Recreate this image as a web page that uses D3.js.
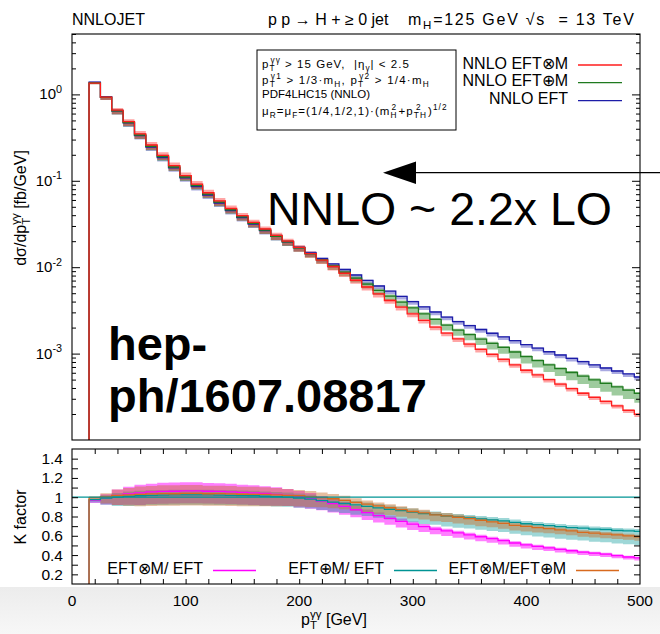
<!DOCTYPE html>
<html>
<head>
<meta charset="utf-8">
<script src="https://cdn.jsdelivr.net/npm/d3@7"></script>
<style>
  body { margin: 0; background: #fff; }
  svg { display: block; font-family: "Liberation Sans", Arial, Helvetica, sans-serif; }
</style>
</head>
<body>
<svg id="chart" width="660" height="634"></svg>
<script>
// bins of 10 GeV starting at 15 GeV, the last one is cut at 500
const binLow = d3.range(15, 505, 10)

// NNLO EFT, dsigma/dpT [fb/GeV]
const eft = [1.39, 0.933, 0.643, 0.467, 0.334, 0.246, 0.186, 0.141, 0.108, 0.0859,
  0.0685, 0.0553, 0.0453, 0.0376, 0.0316, 0.0266, 0.0227, 0.0196, 0.0169, 0.0146,
  0.0126, 0.0109, 0.0094, 0.00812, 0.00702, 0.00606, 0.00528, 0.00459, 0.0040, 0.00348,
  0.00303, 0.00265, 0.00235, 0.00211, 0.00190, 0.00172, 0.00156, 0.00141, 0.00127, 0.00116,
  0.00105, 0.000963, 0.000882, 0.000808, 0.000742, 0.000681, 0.000629, 0.000581, 0.000536]

// K factors (lower panel)
const kTimes = [0.97, 0.995, 1.02, 1.035, 1.045, 1.055, 1.06, 1.062, 1.065, 1.065,
  1.062, 1.06, 1.055, 1.05, 1.045, 1.04, 1.03, 1.02, 1.005, 0.985,
  0.96, 0.935, 0.905, 0.87, 0.84, 0.81, 0.78, 0.75, 0.72, 0.695,
  0.67, 0.65, 0.63, 0.61, 0.59, 0.57, 0.55, 0.525, 0.505, 0.49,
  0.475, 0.46, 0.445, 0.43, 0.42, 0.41, 0.395, 0.38, 0.37]
const kPlus = [0.975, 0.99, 1.0, 1.01, 1.015, 1.02, 1.022, 1.025, 1.025, 1.025,
  1.025, 1.022, 1.02, 1.018, 1.015, 1.01, 1.005, 1.0, 0.99, 0.98,
  0.965, 0.95, 0.935, 0.92, 0.905, 0.89, 0.875, 0.86, 0.845, 0.83,
  0.82, 0.805, 0.795, 0.785, 0.775, 0.765, 0.755, 0.74, 0.725, 0.715,
  0.705, 0.695, 0.685, 0.68, 0.67, 0.665, 0.655, 0.65, 0.645]
const kRatio = [0.995, 1.005, 1.02, 1.025, 1.03, 1.034, 1.037, 1.036, 1.039, 1.039,
  1.036, 1.037, 1.034, 1.031, 1.03, 1.03, 1.025, 1.02, 1.015, 1.005,
  0.995, 0.984, 0.968, 0.946, 0.928, 0.91, 0.891, 0.872, 0.852, 0.837,
  0.817, 0.807, 0.792, 0.777, 0.761, 0.745, 0.728, 0.709, 0.697, 0.685,
  0.674, 0.662, 0.65, 0.635, 0.627, 0.617, 0.61, 0.60, 0.59]

// scale variation, relative down / up
const uncTimesDn = [0.03, 0.07, 0.10, 0.11, 0.12, 0.12, 0.12, 0.12, 0.12, 0.12,
  0.12, 0.12, 0.12, 0.12, 0.12, 0.12, 0.115, 0.11, 0.11, 0.105,
  0.10, 0.10, 0.095, 0.09, 0.09, 0.09, 0.085, 0.085, 0.085, 0.08,
  0.08, 0.08, 0.08, 0.08, 0.08, 0.075, 0.075, 0.075, 0.075, 0.075,
  0.07, 0.07, 0.07, 0.07, 0.07, 0.07, 0.07, 0.07, 0.07]
const uncTimesUp = [0.015, 0.035, 0.06, 0.07, 0.08, 0.08, 0.085, 0.085, 0.085, 0.085,
  0.08, 0.08, 0.08, 0.075, 0.075, 0.07, 0.07, 0.065, 0.06, 0.06,
  0.055, 0.05, 0.05, 0.045, 0.04, 0.04, 0.04, 0.04, 0.04, 0.04,
  0.035, 0.035, 0.035, 0.035, 0.035, 0.035, 0.035, 0.035, 0.035, 0.035,
  0.035, 0.035, 0.035, 0.035, 0.035, 0.035, 0.035, 0.035, 0.035]
const uncPlusDn = [0.03, 0.07, 0.09, 0.10, 0.10, 0.10, 0.10, 0.10, 0.10, 0.10,
  0.10, 0.10, 0.10, 0.10, 0.10, 0.10, 0.10, 0.10, 0.10, 0.10,
  0.10, 0.105, 0.105, 0.11, 0.11, 0.115, 0.12, 0.12, 0.125, 0.13,
  0.13, 0.135, 0.14, 0.14, 0.145, 0.15, 0.155, 0.16, 0.165, 0.17,
  0.175, 0.18, 0.185, 0.19, 0.195, 0.20, 0.205, 0.21, 0.22]
const uncPlusUp = [0.015, 0.03, 0.045, 0.05, 0.05, 0.05, 0.05, 0.05, 0.05, 0.05,
  0.05, 0.05, 0.05, 0.05, 0.05, 0.05, 0.05, 0.05, 0.05, 0.05,
  0.045, 0.045, 0.045, 0.045, 0.045, 0.045, 0.045, 0.045, 0.045, 0.04,
  0.04, 0.04, 0.04, 0.04, 0.04, 0.04, 0.04, 0.04, 0.04, 0.04,
  0.04, 0.04, 0.04, 0.04, 0.04, 0.04, 0.04, 0.04, 0.04]
const uncEftDn = [0.03, 0.07, 0.09, 0.10, 0.10, 0.10, 0.10, 0.10, 0.10, 0.10,
  0.10, 0.10, 0.10, 0.10, 0.10, 0.10, 0.10, 0.10, 0.10, 0.10,
  0.10, 0.10, 0.10, 0.10, 0.10, 0.08, 0.08, 0.08, 0.08, 0.08,
  0.08, 0.08, 0.08, 0.08, 0.08, 0.08, 0.08, 0.08, 0.08, 0.08,
  0.08, 0.08, 0.08, 0.08, 0.08, 0.08, 0.08, 0.08, 0.08]
const uncEftUp = [0.015, 0.03, 0.045, 0.05, 0.05, 0.05, 0.05, 0.05, 0.05, 0.05,
  0.05, 0.05, 0.05, 0.05, 0.05, 0.05, 0.05, 0.05, 0.05, 0.05,
  0.02, 0.02, 0.02, 0.02, 0.02, 0.02, 0.02, 0.02, 0.02, 0.02,
  0.02, 0.02, 0.02, 0.02, 0.02, 0.02, 0.02, 0.02, 0.02, 0.02,
  0.02, 0.02, 0.02, 0.02, 0.02, 0.02, 0.02, 0.02, 0.02]

const xTicks = d3.range(20, 500, 20)
const xLabels = [0, 100, 200, 300, 400, 500]
const logMajor = [1e-3, 1e-2, 1e-1, 1]
const kTicks = [0.2, 0.3, 0.4, 0.5, 0.6, 0.7, 0.8, 0.9, 1.0, 1.1, 1.2, 1.3, 1.4]
const kLabels = [0.2, 0.4, 0.6, 0.8, 1, 1.2, 1.4]

const svg = d3.select('#chart')
const x = d3.scaleLinear().domain([0, 500]).range([72, 640])
const y = d3.scaleLog().domain([1e-4, 5]).range([440, 34])
const yK = d3.scaleLinear().domain([0.1, 1.5]).range([584, 449])

const defs = svg.append('defs')
const grad = defs.append('linearGradient').attr('id', 'floor').attr('x1', 0).attr('x2', 0).attr('y1', 0).attr('y2', 1)
grad.append('stop').attr('offset', 0).attr('stop-color', '#ececec')
grad.append('stop').attr('offset', 1).attr('stop-color', '#f7f7f7')
svg.append('rect').attr('x', 0).attr('y', 587).attr('width', 660).attr('height', 47).attr('fill', 'url(#floor)')

defs.append('clipPath').attr('id', 'clipMain').append('rect')
  .attr('x', x(0)).attr('y', y.range()[1]).attr('width', x(500) - x(0)).attr('height', y.range()[0] - y.range()[1])
defs.append('clipPath').attr('id', 'clipK').append('rect')
  .attr('x', x(0)).attr('y', yK.range()[1]).attr('width', x(500) - x(0)).attr('height', yK.range()[0] - yK.range()[1])

// text with stacked sub/superscripts like gnuplot's enhanced mode
const rich = (parent, px, py, size, segs, anchor = 'start', weight = 'normal') => {
  const t = parent.append('text').attr('x', px).attr('y', py).attr('font-size', size)
    .attr('text-anchor', anchor).attr('font-weight', weight).attr('fill', '#000')
    .style('white-space', 'pre')
  let cur = 0, pend = 0
  const add = (str, off, fs) => {
    const s = t.append('tspan').attr('dy', off - cur).attr('font-size', fs).text(str)
    if (pend) s.attr('dx', pend)
    pend = 0
    cur = off
    return s.node().getComputedTextLength()
  }
  segs.forEach(seg => {
    if (typeof seg === 'string') { add(seg, 0, size); return }
    const small = size * 0.72
    let wSub = 0
    if (seg.sub) wSub = add(seg.sub, size * 0.28, small)
    if (seg.sup) {
      if (seg.sub) pend = -wSub
      const wSup = add(seg.sup, -size * 0.42, small)
      if (seg.sub && wSub > wSup) pend = wSub - wSup
    }
  })
  return t
}
// stretch a line so it spans like in the original (gnuplot spaces its enhanced text wider)
const spread = (t, width) => {
  const n = t.text().length
  const w = t.node().getBBox().width
  t.style('letter-spacing', `${(width - w) / n}px`)
}

const stepPts = (vals, scale) => {
  const pts = binLow.map((lo, i) => ({ x: lo, py: scale(vals[i]) }))
  pts.push({ x: 500, py: scale(vals[vals.length - 1]) })
  return pts
}
const stepLine = d3.line().curve(d3.curveStepAfter).x(d => x(d.x)).y(d => d.py)
const stepArea = d3.area().curve(d3.curveStepAfter).x(d => x(d.x)).y0(d => d.lo).y1(d => d.hi)

const bandPts = (vals, dn, up, scale) => {
  const pts = binLow.map((lo, i) => ({ x: lo, lo: scale(vals[i] * (1 - dn[i])), hi: scale(vals[i] * (1 + up[i])) }))
  const last = pts[pts.length - 1]
  pts.push({ x: 500, lo: last.lo, hi: last.hi })
  return pts
}

// ---------- main panel ----------
const red = eft.map((v, i) => v * kTimes[i])
const green = eft.map((v, i) => v * kPlus[i])

const series = [
  { vals: eft, dn: uncEftDn, up: uncEftUp, line: '#1c1ca8', band: 'rgba(40,40,180,0.4)' },
  { vals: green, dn: uncPlusDn, up: uncPlusUp, line: '#1f7a1f', band: 'rgba(40,140,40,0.45)' },
  { vals: red, dn: uncTimesDn, up: uncTimesUp, line: '#ff1c1c', band: 'rgba(255,40,40,0.42)' }
]

const main = svg.append('g').attr('clip-path', 'url(#clipMain)')
series.forEach(s => {
  main.append('path').attr('d', stepArea(bandPts(s.vals, s.dn, s.up, y))).attr('fill', s.band)
})
series.forEach(s => {
  const pts = [{ x: binLow[0], py: y.range()[0] }].concat(stepPts(s.vals, y))
  main.append('path').attr('d', stepLine(pts)).attr('fill', 'none').attr('stroke', s.line).attr('stroke-width', 1.3)
})

const logMinor = []
d3.range(-4, 1).forEach(e => d3.range(2, 10).forEach(k => {
  const v = k * Math.pow(10, e)
  if (v <= 5) logMinor.push(v)
}))

const yAxes = svg.append('g')
yAxes.append('g').attr('transform', `translate(${x(0)},0)`)
  .call(d3.axisLeft(y).tickValues(logMajor).tickSize(-8).tickSizeOuter(0).tickFormat(''))
yAxes.append('g').attr('transform', `translate(${x(0)},0)`)
  .call(d3.axisLeft(y).tickValues(logMinor).tickSize(-4).tickSizeOuter(0).tickFormat(''))
yAxes.append('g').attr('transform', `translate(${x(500)},0)`)
  .call(d3.axisRight(y).tickValues(logMajor).tickSize(-8).tickSizeOuter(0).tickFormat(''))
yAxes.append('g').attr('transform', `translate(${x(500)},0)`)
  .call(d3.axisRight(y).tickValues(logMinor).tickSize(-4).tickSizeOuter(0).tickFormat(''))

logMajor.forEach(v => {
  rich(svg, 62, y(v) + 5, 15, ['10', { sup: String(Math.round(Math.log10(v))) }], 'end')
})

svg.append('rect').attr('x', x(0)).attr('y', y.range()[1]).attr('width', x(500) - x(0))
  .attr('height', y.range()[0] - y.range()[1]).attr('fill', 'none').attr('stroke', '#000').attr('stroke-width', 1.1)

// ---------- K factor panel ----------
const kSeries = [
  { vals: kTimes, dn: uncTimesDn, up: uncTimesUp, line: '#ff00ff', band: 'rgba(255,0,255,0.5)' },
  { vals: kPlus, dn: uncPlusDn, up: uncPlusUp, line: '#009494', band: 'rgba(0,150,150,0.38)' },
  { vals: kRatio, dn: uncTimesDn, up: uncTimesUp, line: '#d86a1e', band: 'rgba(200,110,45,0.45)' }
]
const lower = svg.append('g').attr('clip-path', 'url(#clipK)')
kSeries.forEach(s => {
  lower.append('path').attr('d', stepArea(bandPts(s.vals, s.dn, s.up, yK))).attr('fill', s.band)
})
kSeries.forEach(s => {
  const pts = [{ x: binLow[0], py: yK.range()[0] }].concat(stepPts(s.vals, yK))
  lower.append('path').attr('d', stepLine(pts)).attr('fill', 'none').attr('stroke', s.line).attr('stroke-width', 1.3)
})
lower.append('line').attr('x1', x(0)).attr('x2', x(500)).attr('y1', yK(1)).attr('y2', yK(1))
  .attr('stroke', '#009494').attr('stroke-width', 1.2)

const kAxes = svg.append('g')
kAxes.append('g').attr('transform', `translate(${x(0)},0)`)
  .call(d3.axisLeft(yK).tickValues(kTicks).tickSize(-6).tickSizeOuter(0).tickFormat(''))
kAxes.append('g').attr('transform', `translate(${x(500)},0)`)
  .call(d3.axisRight(yK).tickValues(kTicks).tickSize(-6).tickSizeOuter(0).tickFormat(''))
kAxes.append('g').attr('transform', `translate(0,${yK.range()[1]})`)
  .call(d3.axisTop(x).tickValues(xTicks).tickSize(-5).tickSizeOuter(0).tickFormat(''))
kAxes.append('g').attr('transform', `translate(0,${yK.range()[0]})`)
  .call(d3.axisBottom(x).tickValues(xTicks).tickSize(-5).tickSizeOuter(0).tickFormat(''))
svg.selectAll('.domain').remove()
svg.selectAll('.tick line').attr('stroke', '#000')

kLabels.forEach(v => {
  svg.append('text').attr('x', 63).attr('y', yK(v) + 5.5).attr('text-anchor', 'end')
    .attr('font-size', 15.5).text(String(v))
})
xLabels.forEach(v => {
  svg.append('text').attr('x', x(v)).attr('y', 606).attr('text-anchor', 'middle')
    .attr('font-size', 15.5).text(String(v))
})

svg.append('rect').attr('x', x(0)).attr('y', yK.range()[1]).attr('width', x(500) - x(0))
  .attr('height', yK.range()[0] - yK.range()[1]).attr('fill', 'none').attr('stroke', '#000').attr('stroke-width', 1.1)

// K legend
const kLegend = [
  { label: 'EFT⊗M/ EFT', end: 203, color: '#ff00ff' },
  { label: 'EFT⊕M/ EFT', end: 384, color: '#009494' },
  { label: 'EFT⊗M/EFT⊕M', end: 566, color: '#d86a1e' }
]
kLegend.forEach(d => {
  svg.append('text').attr('x', d.end).attr('y', 574).attr('text-anchor', 'end').attr('font-size', 16).text(d.label)
  svg.append('line').attr('x1', d.end + 10).attr('x2', d.end + 53).attr('y1', 570.5).attr('y2', 570.5)
    .attr('stroke', d.color).attr('stroke-width', 1.3)
})

// main legend
const legend = [
  { label: 'NNLO EFT⊗M', color: '#ff1c1c', ty: 68.5, ly: 65 },
  { label: 'NNLO EFT⊕M', color: '#1f7a1f', ty: 86, ly: 82.7 },
  { label: 'NNLO EFT', color: '#1c1ca8', ty: 104, ly: 100.7 }
]
legend.forEach(d => {
  svg.append('text').attr('x', 568).attr('y', d.ty).attr('text-anchor', 'end').attr('font-size', 16).text(d.label)
  svg.append('line').attr('x1', 578).attr('x2', 622).attr('y1', d.ly).attr('y2', d.ly)
    .attr('stroke', d.color).attr('stroke-width', 1.3)
})

// cuts box
svg.append('rect').attr('x', 257).attr('y', 50).attr('width', 199).attr('height', 80)
  .attr('fill', '#fff').attr('stroke', '#000').attr('stroke-width', 1)
const box = svg.append('g')
spread(rich(box, 262, 68, 11.5, ['p', { sub: 'T', sup: 'γγ' }, ' > 15 GeV,  |η', { sub: 'γ' }, '| < 2.5']), 148)
spread(rich(box, 262, 83.5, 11.5, ['p', { sub: 'T', sup: 'γ1' }, ' > 1/3·m', { sub: 'H' }, ', p', { sub: 'T', sup: 'γ2' }, ' > 1/4·m', { sub: 'H' }]), 168)
rich(box, 262, 98, 11.5, ['PDF4LHC15 (NNLO)'])
spread(rich(box, 262, 115, 11.5, ['μ', { sub: 'R' }, '=μ', { sub: 'F' }, '=(1/4,1/2,1)·(m', { sub: 'H', sup: '2' }, '+p', { sub: 'TH', sup: '2' }, ')', { sup: '1/2' }]), 186)

// header
svg.append('text').attr('x', 72).attr('y', 25).attr('font-size', 16).text('NNLOJET')
svg.append('text').attr('x', 268).attr('y', 25).attr('font-size', 16).text('p p → H + ≥ 0 jet')
spread(rich(svg, 408, 25, 16, ['m', { sub: 'H' }, '=125 GeV √s  = 13 TeV']), 228)

// axis titles
const yl = svg.append('g').attr('transform', 'translate(26,208) rotate(-90)')
rich(yl, 0, 0, 16, ['dσ/dp', { sub: 'T', sup: 'γγ' }, ' [fb/GeV]'], 'middle')
svg.append('g').attr('transform', 'translate(26,517) rotate(-90)')
  .append('text').attr('text-anchor', 'middle').attr('font-size', 16).text('K factor')
rich(svg, 334, 625, 16, ['p', { sub: 'T', sup: 'γγ' }, ' [GeV]'], 'middle')

// annotations
svg.append('path').attr('d', d3.line()([[383, 172.7], [416, 161.5], [416, 184], [383, 172.7]])).attr('fill', '#000')
svg.append('line').attr('x1', 414).attr('x2', 660).attr('y1', 172.7).attr('y2', 172.7)
  .attr('stroke', '#000').attr('stroke-width', 1.3)
svg.append('text').attr('x', 267).attr('y', 225).attr('font-size', 46.5).text('NNLO ~ 2.2x LO')
svg.append('text').attr('x', 108).attr('y', 360).attr('font-size', 47).attr('font-weight', 'bold').text('hep-')
svg.append('text').attr('x', 108).attr('y', 412).attr('font-size', 47).attr('font-weight', 'bold').text('ph/1607.08817')
</script>
</body>
</html>
